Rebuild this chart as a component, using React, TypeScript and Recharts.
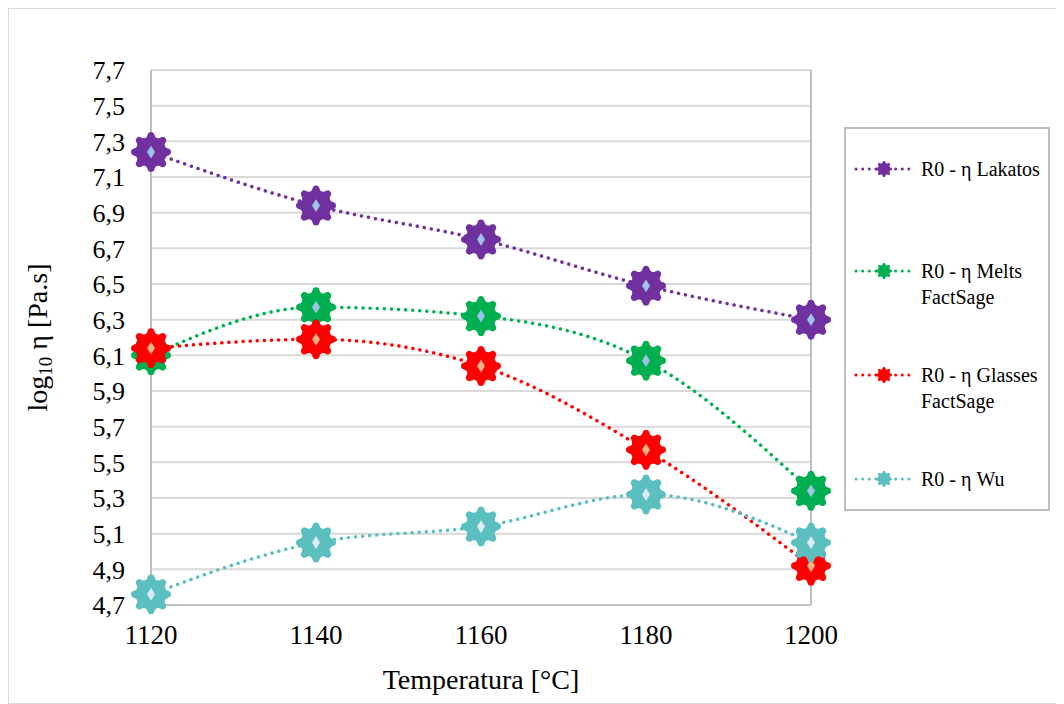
import React from "react";
import { LineChart, Line, XAxis, YAxis, CartesianGrid, ReferenceLine, Label } from "recharts";

const TEMPS = [1120, 1140, 1160, 1180, 1200];
const LAKATOS = [7.24, 6.94, 6.75, 6.49, 6.3];
const MELTS = [6.1, 6.37, 6.32, 6.07, 5.34];
const GLASSES = [6.14, 6.19, 6.04, 5.57, 4.92];
const WU = [4.76, 5.05, 5.14, 5.32, 5.05];

const X_TICKS = [1120, 1140, 1160, 1180, 1200];
const Y_TICKS = [4.7, 4.9, 5.1, 5.3, 5.5, 5.7, 5.9, 6.1, 6.3, 6.5, 6.7, 6.9, 7.1, 7.3, 7.5, 7.7];

const SERIES = [
  { key: "lakatos", label: ["R0 - η Lakatos"], color: "#7030a0", center: "#9dc3e6", values: LAKATOS },
  { key: "melts", label: ["R0 - η Melts", "FactSage"], color: "#00b050", center: "#9dc3e6", values: MELTS },
  { key: "glasses", label: ["R0 - η Glasses", "FactSage"], color: "#ff0000", center: "#f4b183", values: GLASSES },
  { key: "wu", label: ["R0 - η Wu"], color: "#5bbfc0", center: "#deebf7", values: WU },
];

const data = TEMPS.map((t, i) => ({
  t,
  lakatos: LAKATOS[i],
  melts: MELTS[i],
  glasses: GLASSES[i],
  wu: WU[i],
}));

const FONT = "'Liberation Serif', 'Times New Roman', serif";

// flower-like marker outline, 8 rounded lobes
function gearPath(cx: number, cy: number, r: number) {
  const pts: string[] = [];
  const n = 96;
  for (let i = 0; i < n; i++) {
    const a = (i / n) * Math.PI * 2 + Math.PI / 8;
    const c = Math.cos(8 * a);
    const rr = r * (0.88 + 0.12 * Math.sign(c) * Math.sqrt(Math.abs(c)));
    pts.push(`${(cx + rr * Math.cos(a)).toFixed(2)},${(cy + rr * Math.sin(a)).toFixed(2)}`);
  }
  return "M" + pts.join("L") + "Z";
}

function Marker({ cx, cy, color, center, r }: { cx: number; cy: number; color: string; center: string; r: number }) {
  const w = r * 0.2;
  const h = r * 0.32;
  return (
    <g>
      <path d={gearPath(cx, cy, r)} fill={color} />
      <path d={`M${cx},${cy - h}L${cx + w},${cy}L${cx},${cy + h}L${cx - w},${cy}Z`} fill={center} />
    </g>
  );
}

function YLabel(props: any) {
  const vb = props.viewBox || {};
  const x = 32;
  const y = vb.y + vb.height / 2;
  return (
    <text
      x={x}
      y={y}
      transform={`rotate(-90 ${x} ${y})`}
      textAnchor="middle"
      dominantBaseline="middle"
      fontFamily={FONT}
      fontSize={28}
      fill="#000"
    >
      <tspan>log</tspan>
      <tspan fontSize={19} dy={7}>10</tspan>
      <tspan dy={-7}> η [Pa.s]</tspan>
    </text>
  );
}

function LegendBox() {
  const rows = [168, 270, 374, 478];
  return (
    <div
      style={{
        position: "absolute",
        left: 835,
        top: 118,
        width: 206,
        height: 384,
        border: "2px solid #bfbfbf",
        boxSizing: "border-box",
      }}
    >
      {SERIES.map((s, i) => (
        <div key={s.key} style={{ position: "absolute", left: 6, top: rows[i] - 128 - 12 }}>
          <svg width={64} height={24} style={{ position: "absolute", left: 0, top: 0 }}>
            <line x1={4} y1={12} x2={62} y2={12} stroke={s.color} strokeWidth={3} strokeDasharray="0.1 6.5" strokeLinecap="round" />
            <Marker cx={32} cy={12} color={s.color} center={s.color} r={8} />
          </svg>
          <div
            style={{
              position: "absolute",
              left: 69,
              top: 0,
              fontFamily: FONT,
              fontSize: 20,
              lineHeight: "26px",
              whiteSpace: "nowrap",
              color: "#000",
              marginTop: -1,
            }}
          >
            {s.label.map((l) => (
              <div key={l}>{l}</div>
            ))}
          </div>
        </div>
      ))}
    </div>
  );
}

export default function App() {
  return (
    <div
      style={{
        position: "relative",
        width: 1056,
        height: 696,
        border: "1px solid #d9d9d9",
        boxSizing: "border-box",
        background: "#fff",
      }}
    >
      <LineChart width={1054} height={694} data={data} margin={{ top: 61, right: 252, bottom: 68, left: 82 }}>
        <CartesianGrid vertical={false} stroke="#d9d9d9" strokeWidth={2} />
        <XAxis
          dataKey="t"
          type="number"
          domain={[1120, 1200]}
          ticks={X_TICKS}
          height={30}
          tickLine={false}
          tickMargin={14}
          axisLine={{ stroke: "#bfbfbf", strokeWidth: 2 }}
          tick={{ fill: "#000", fontSize: 27, fontFamily: FONT }}
        >
          <Label value="Temperatura [°C]" position="bottom" offset={34} style={{ fill: "#000", fontSize: 28, fontFamily: FONT }} />
        </XAxis>
        <YAxis
          type="number"
          domain={[4.7, 7.7]}
          ticks={Y_TICKS}
          interval={0}
          width={60}
          tickLine={false}
          tickMargin={20}
          axisLine={{ stroke: "#bfbfbf", strokeWidth: 2 }}
          tickFormatter={(v: number) => v.toFixed(1).replace(".", ",")}
          tick={{ fill: "#000", fontSize: 26, fontFamily: FONT }}
          label={<YLabel />}
        />
        <ReferenceLine x={1200} stroke="#bfbfbf" strokeWidth={2} />
        {SERIES.map((s) => (
          <Line
            key={s.key}
            type="monotone"
            dataKey={s.key}
            stroke={s.color}
            strokeWidth={3.5}
            strokeDasharray="0.1 7"
            strokeLinecap="round"
            isAnimationActive={false}
            activeDot={false}
            dot={(p: any) => (
              <Marker key={`${s.key}-${p.index}`} cx={p.cx} cy={p.cy} color={s.color} center={s.center} r={20} />
            )}
          />
        ))}
      </LineChart>
      <LegendBox />
    </div>
  );
}
